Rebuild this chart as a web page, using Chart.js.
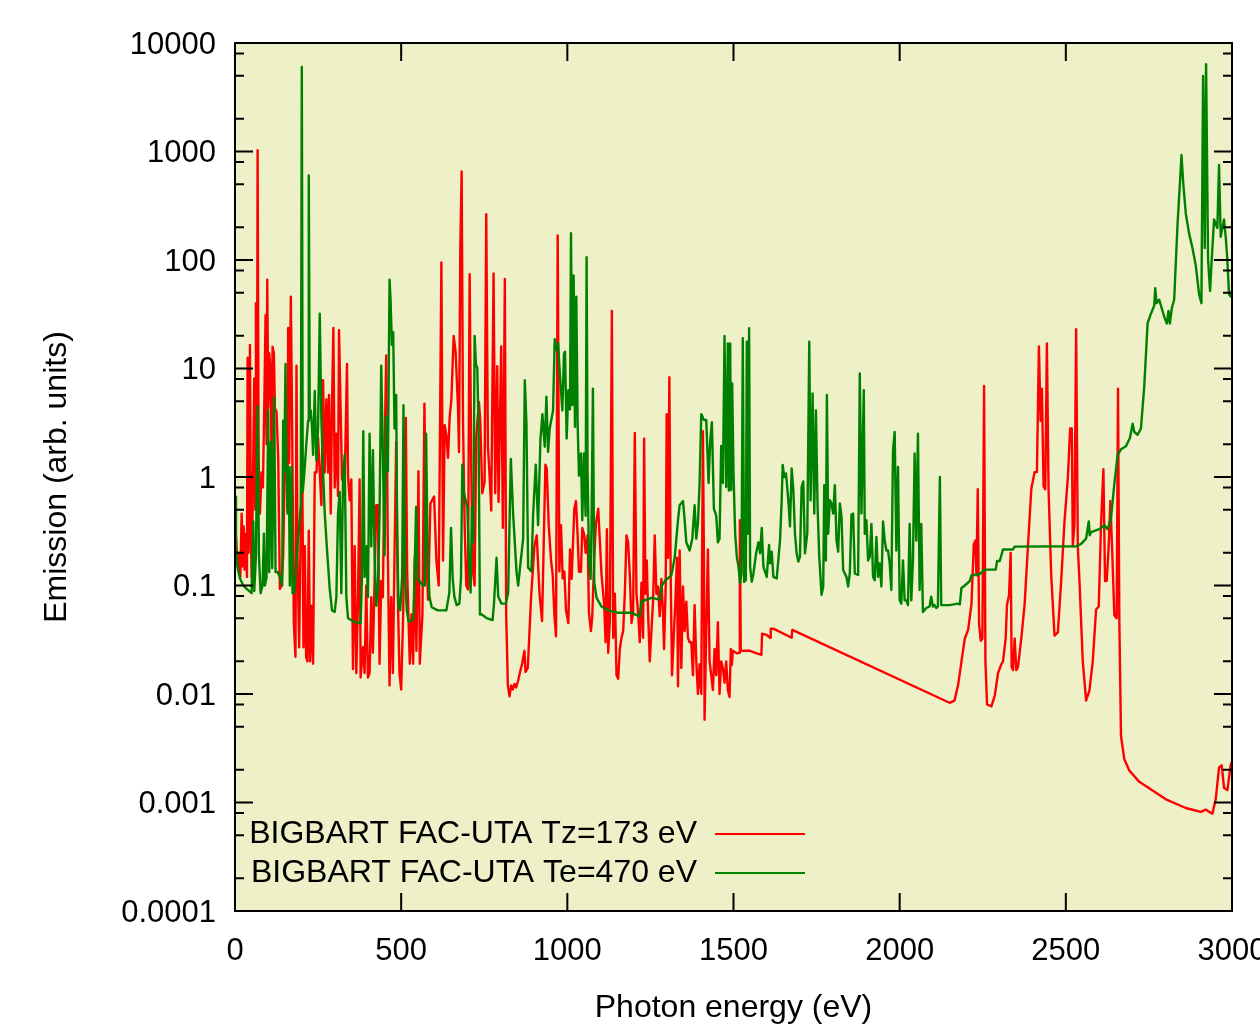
<!DOCTYPE html>
<html>
<head>
<meta charset="utf-8">
<script src="https://cdn.jsdelivr.net/npm/chart.js@4.4.1/dist/chart.umd.min.js"></script>
<style>
  html, body { margin: 0; padding: 0; background: #fff; }
  canvas { display: block; }
</style>
</head>
<body>
<canvas id="spectrum" width="1260" height="1027"></canvas>
<script>
// ===== data: [photon energy (eV), emission (arb. units)] =====
const seriesLabels = ['BIGBART FAC-UTA Tz=173 eV', 'BIGBART FAC-UTA Te=470 eV'];
const seriesColors = ['#ff0000', '#008000'];

const tzPoints = [
  [0,0.4],[4,0.25],[8,0.15],[12,0.2],[16,0.12],[20,0.46],[23,0.15],[26,0.35],[29,0.14],[33,0.3],
  [36,0.12],[38,12.6],[41,0.2],[45,16.5],[48,0.3],[50,0.12],[53,0.5],[58,8.1],[61,0.5],[63,40],
  [66,0.9],[68,1030],[71,1.5],[75,0.46],[80,1.1],[84,0.8],[88,4.3],[92,31],[95,2],[97,66],
  [100,4.3],[103,13.8],[107,9.7],[110,1.35],[113,15.9],[117,13.8],[120,4.3],[125,4.0],[130,1.5],[135,0.093],
  [140,0.1],[145,0.19],[150,1.35],[155,2.3],[158,0.5],[160,23.7],[163,1.35],[168,46],[172,2.8],[177,0.045],
  [182,0.022],[185,10.6],[188,0.19],[193,0.027],[197,0.23],[202,2.0],[206,0.027],[210,0.23],[214,0.022],[218,0.02],
  [222,0.32],[226,0.02],[230,0.065],[235,0.019],[240,1.1],[245,1.1],[250,2.3],[255,1.1],[260,0.55],[265,7.8],
  [270,1.1],[275,5.2],[280,1.1],[283,5.7],[288,0.46],[292,4.7],[296,23.7],[300,0.8],[305,2.5],[310,0.67],
  [313,22.6],[318,4.0],[322,0.95],[330,0.87],[337,11],[340,1.04],[345,0.61],[350,0.95],[355,0.017],[360,0.23],
  [365,0.0156],[370,0.071],[375,0.95],[378,0.0142],[385,0.027],[390,0.0156],[395,0.1],[400,0.0142],[405,0.0156],[410,0.078],
  [415,0.024],[420,0.11],[425,0.55],[430,0.55],[435,0.019],[440,0.11],[445,0.078],[450,1.6],[455,13.2],[460,0.19],
  [465,0.012],[470,0.078],[475,0.0156],[480,0.19],[485,2.1],[490,0.078],[495,0.0156],[500,0.011],[506,0.054],[514,3.5],
  [518,0.135],[526,0.019],[531,0.054],[536,0.019],[541,0.18],[546,0.025],[552,1.13],[556,0.019],[564,0.054],[570,4.75],
  [576,0.17],[581,0.074],[588,0.57],[593,0.61],[599,0.66],[606,0.17],[613,0.1],[616,1.3],[621,95],[626,0.17],
  [631,3.0],[636,2.4],[641,1.5],[646,3.6],[651,5.1],[658,20],[664,14],[671,4.4],[674,1.7],[678,133],
  [682,655],[686,3.3],[691,0.36],[696,0.1],[701,0.092],[706,74],[711,1.13],[716,0.135],[721,0.1],[726,2.4],
  [734,4.9],[738,3.3],[744,0.71],[751,0.9],[756,264],[761,1.9],[766,1.04],[771,0.49],[778,75],[783,0.71],
  [789,10.5],[793,0.59],[801,16],[806,0.34],[812,67],[816,0.054],[821,0.012],[826,0.0095],[831,0.012],[836,0.011],
  [841,0.0124],[846,0.0115],[851,0.0129],[858,0.016],[864,0.019],[871,0.025],[874,0.016],[881,0.0174],[891,0.079],[901,0.23],
  [908,0.29],[916,0.086],[924,0.047],[929,0.25],[934,1.3],[938,1.2],[944,0.36],[951,0.17],[956,0.125],[961,0.054],
  [966,0.034],[971,168],[976,0.135],[981,0.36],[986,0.116],[991,0.135],[996,0.059],[1003,0.045],[1008,0.215],[1013,0.115],
  [1021,0.51],[1026,0.6],[1031,0.29],[1035,0.134],[1041,0.134],[1045,0.34],[1051,0.29],[1055,0.2],[1061,0.29],[1065,0.056],
  [1071,0.038],[1075,0.052],[1081,0.18],[1086,0.37],[1093,0.51],[1098,0.25],[1103,0.124],[1111,0.066],[1115,0.03],[1119,0.33],
  [1123,0.024],[1128,0.048],[1134,34],[1138,0.033],[1143,0.084],[1148,0.0149],[1153,0.0138],[1158,0.026],[1163,0.033],[1168,0.038],
  [1173,0.084],[1178,0.29],[1183,0.25],[1188,0.124],[1193,0.045],[1198,0.056],[1203,2.55],[1208,0.084],[1213,0.056],[1218,0.03],
  [1223,0.106],[1228,0.033],[1231,2.26],[1235,0.084],[1239,0.17],[1243,0.056],[1248,0.02],[1253,0.038],[1258,0.071],[1263,0.29],
  [1268,0.084],[1273,0.098],[1278,0.052],[1283,0.115],[1288,0.056],[1291,0.026],[1296,0.098],[1299,3.8],[1303,0.18],[1307,8.3],
  [1311,0.124],[1315,0.0149],[1320,0.033],[1325,0.071],[1330,0.18],[1333,0.0118],[1338,0.21],[1343,0.0174],[1348,0.098],[1353,0.038],
  [1358,0.071],[1363,0.033],[1368,0.03],[1373,0.03],[1378,0.0149],[1383,0.066],[1388,0.02],[1393,0.01],[1398,0.0188],[1403,0.01],
  [1408,2.65],[1411,0.18],[1413,0.0058],[1418,0.038],[1423,0.215],[1428,0.02],[1433,0.0149],[1438,0.0109],[1443,0.026],[1448,0.0149],
  [1453,0.046],[1458,0.01],[1463,0.02],[1468,0.0174],[1473,0.0127],[1478,0.02],[1483,0.0109],[1488,0.0094],[1492,0.026],[1495,0.0185],
  [1498,0.025],[1510,0.0237],[1517,0.024],[1519,0.4],[1522,0.025],[1550,0.025],[1570,0.0237],[1584,0.023],[1586,0.036],[1600,0.035],
  [1610,0.033],[1612,0.04],[1620,0.04],[1675,0.033],[1677,0.039],[2150,0.0083],[2165,0.0087],[2176,0.0122],[2186,0.02],[2196,0.0325],
  [2206,0.039],[2216,0.067],[2223,0.24],[2228,0.26],[2231,0.124],[2235,0.77],[2239,0.044],[2244,0.031],[2249,0.0325],[2254,6.9],
  [2258,0.02],[2263,0.008],[2276,0.0077],[2286,0.0096],[2296,0.0156],[2306,0.0188],[2311,0.02],[2319,0.0325],[2323,0.067],[2329,0.081],
  [2334,0.2],[2337,0.0177],[2341,0.0166],[2346,0.0325],[2351,0.0166],[2356,0.0177],[2366,0.0325],[2376,0.067],[2386,0.23],[2396,0.77],
  [2406,1.11],[2413,1.11],[2419,16],[2424,3.3],[2428,6.5],[2433,0.82],[2438,0.77],[2443,17],[2448,0.77],[2456,0.124],
  [2466,0.0345],[2476,0.037],[2486,0.11],[2496,0.39],[2506,0.98],[2513,2.8],[2518,2.8],[2521,0.23],[2526,0.37],[2531,23],
  [2536,0.23],[2541,0.11],[2551,0.02],[2561,0.0087],[2571,0.0108],[2581,0.02],[2591,0.06],[2599,0.064],[2606,0.37],[2613,1.18],
  [2618,0.11],[2623,0.11],[2629,0.23],[2634,0.6],[2639,0.23],[2646,0.053],[2653,0.05],[2657,6.5],[2661,0.047],[2666,0.0041],
  [2676,0.0025],[2691,0.00197],[2721,0.00155],[2801,0.00107],[2861,0.00089],[2906,0.00082],[2921,0.00086],[2931,0.00082],[2941,0.00079],[2951,0.00107],
  [2961,0.0021],[2969,0.0022],[2976,0.00137],[2986,0.0013],[2996,0.0022],[3000,0.0024]
];

const tePoints = [
  [0,0.66],[3,0.23],[8,0.145],[15,0.116],[25,0.1],[35,0.093],[50,0.085],[55,0.39],[58,0.089],[63,0.19],
  [68,4.5],[72,0.19],[77,0.085],[83,0.1],[87,0.3],[90,0.1],[95,0.12],[100,4.1],[103,0.133],[108,2.1],
  [112,0.145],[118,5.4],[122,0.133],[128,0.133],[135,0.12],[142,0.1],[145,3.3],[148,1.13],[152,11],[155,1.13],
  [158,0.46],[162,1.24],[165,0.1],[170,1.24],[173,0.085],[178,0.085],[182,0.12],[188,0.23],[193,0.35],[198,0.55],
  [201,6000],[204,0.73],[210,1.24],[215,2.1],[220,3.3],[222,600],[225,3.6],[228,4.1],[232,2.8],[235,1.6],
  [240,6.2],[245,1.42],[250,2.8],[255,32],[260,3.3],[265,1.13],[270,0.46],[278,0.19],[285,0.093],[292,0.059],
  [300,0.057],[305,0.078],[310,0.46],[315,0.73],[320,0.085],[325,0.95],[330,1.6],[335,0.078],[340,0.05],[360,0.046],
  [378,0.045],[382,0.12],[386,2.65],[390,0.12],[395,0.23],[400,0.078],[405,2.5],[410,0.23],[415,1.77],[420,0.19],
  [425,0.065],[430,0.093],[435,0.46],[440,10.6],[445,1.6],[450,0.19],[455,3.6],[460,1.13],[465,66],[468,44],
  [472,16.5],[476,21.6],[480,2.8],[485,5.7],[488,0.3],[492,0.065],[497,0.059],[503,0.12],[507,4.6],[512,0.116],
  [517,0.059],[522,0.047],[530,0.047],[537,0.05],[545,0.53],[550,0.116],[558,0.107],[565,0.1],[571,0.1],[575,2.5],
  [579,0.29],[585,0.079],[592,0.063],[610,0.059],[636,0.059],[645,0.086],[650,0.34],[655,0.116],[660,0.079],[667,0.066],
  [675,0.068],[680,0.116],[684,1.3],[689,0.71],[694,0.61],[699,0.53],[704,0.17],[709,0.086],[713,0.53],[717,0.25],
  [721,20],[725,10.9],[729,10.1],[733,2.6],[737,0.054],[743,0.054],[757,0.05],[775,0.048],[779,0.066],[787,0.18],
  [792,0.079],[802,0.068],[815,0.068],[822,0.086],[830,1.47],[837,0.45],[847,0.135],[852,0.1],[867,0.27],[872,7.8],
  [877,3.1],[882,0.146],[892,0.135],[897,0.45],[905,1.3],[912,0.36],[919,2.2],[925,3.8],[932,1.9],[937,5.5],
  [942,1.7],[947,2.8],[957,4.1],[962,18.6],[967,14.8],[972,17.2],[977,9.4],[985,4.1],[990,13.7],[993,14.3],
  [998,2.26],[1003,6.3],[1008,4.2],[1011,177],[1015,4.6],[1019,72],[1023,2.9],[1027,46],[1031,3.1],[1035,1.03],
  [1041,1.65],[1045,0.4],[1050,1.65],[1055,0.44],[1058,106],[1061,1.12],[1065,0.18],[1070,0.115],[1073,0.4],[1077,6.5],
  [1081,0.106],[1088,0.077],[1103,0.064],[1123,0.059],[1153,0.056],[1193,0.056],[1218,0.052],[1223,0.071],[1238,0.074],[1253,0.077],
  [1278,0.074],[1283,0.098],[1293,0.11],[1313,0.124],[1323,0.18],[1333,0.4],[1338,0.55],[1348,0.6],[1353,0.4],[1358,0.25],
  [1368,0.21],[1376,0.27],[1383,0.55],[1388,0.27],[1393,0.37],[1398,0.88],[1403,3.8],[1411,3.35],[1418,3.35],[1425,0.88],
  [1430,2.2],[1435,3.2],[1441,0.51],[1448,0.44],[1453,0.25],[1458,0.27],[1463,1.93],[1468,0.88],[1473,20],[1478,0.81],
  [1483,17],[1486,0.75],[1490,17],[1493,0.76],[1496,7.3],[1500,1.08],[1505,0.3],[1510,0.184],[1515,0.149],[1520,0.105],
  [1524,0.129],[1528,19],[1532,0.108],[1537,0.112],[1540,17.7],[1543,0.3],[1547,23.5],[1550,0.149],[1555,0.108],[1560,0.129],
  [1568,0.198],[1575,0.25],[1580,0.198],[1585,0.34],[1590,0.149],[1600,0.12],[1607,0.236],[1610,0.16],[1615,0.205],[1620,0.12],
  [1630,0.116],[1640,0.26],[1645,0.61],[1648,1.29],[1653,1.0],[1658,1.08],[1665,0.61],[1670,0.35],[1675,1.2],[1680,0.76],
  [1685,0.3],[1690,0.198],[1695,0.166],[1700,0.184],[1705,0.81],[1710,0.91],[1715,0.198],[1722,0.3],[1728,17.7],[1732,0.61],
  [1738,5.9],[1743,0.46],[1748,4.1],[1753,0.53],[1758,0.184],[1765,0.082],[1770,0.098],[1773,0.84],[1778,0.17],[1781,5.7],
  [1785,0.3],[1790,0.61],[1795,0.57],[1800,0.46],[1805,0.84],[1810,0.26],[1815,0.205],[1820,0.57],[1825,0.43],[1830,0.139],
  [1840,0.12],[1845,0.098],[1850,0.129],[1855,0.45],[1860,0.46],[1865,0.129],[1875,0.125],[1880,9],[1885,0.46],[1892,6.3],
  [1895,0.3],[1900,0.4],[1905,0.17],[1910,0.184],[1915,0.37],[1920,0.12],[1925,0.112],[1930,0.28],[1935,0.12],[1940,0.16],
  [1945,0.098],[1950,0.39],[1955,0.26],[1960,0.21],[1965,0.21],[1970,0.16],[1975,0.091],[1980,1.77],[1985,2.6],[1990,0.21],
  [1995,1.24],[2000,0.073],[2005,0.068],[2010,0.17],[2015,0.073],[2020,0.073],[2025,0.066],[2030,0.37],[2035,0.073],[2040,0.17],
  [2045,1.65],[2050,0.26],[2055,2.5],[2060,0.091],[2065,0.37],[2070,0.057],[2080,0.062],[2090,0.064],[2095,0.079],[2100,0.064],
  [2105,0.066],[2110,0.062],[2115,0.064],[2121,1.0],[2125,0.066],[2150,0.066],[2175,0.068],[2181,0.067],[2186,0.095],[2196,0.1],
  [2211,0.11],[2216,0.124],[2241,0.127],[2256,0.14],[2289,0.14],[2293,0.168],[2301,0.168],[2306,0.19],[2311,0.215],[2341,0.215],
  [2346,0.228],[2531,0.23],[2546,0.242],[2561,0.27],[2569,0.39],[2572,0.29],[2576,0.31],[2601,0.33],[2616,0.36],[2626,0.33],
  [2636,0.42],[2646,0.87],[2656,1.6],[2666,1.8],[2681,1.92],[2693,2.3],[2701,3.1],[2706,2.6],[2716,2.45],[2726,2.8],
  [2736,6.9],[2746,26],[2756,32],[2766,38],[2769,55],[2773,40],[2781,43],[2796,30],[2804,26],[2809,34],
  [2813,26],[2819,36],[2826,43],[2836,210],[2844,555],[2848,927],[2853,522],[2861,267],[2871,175],[2881,129],
  [2891,89],[2901,48.5],[2908,40],[2913,4980],[2918,129],[2922,6360],[2928,101],[2934,52],[2939,101],[2946,236],
  [2956,197],[2961,753],[2966,164],[2976,236],[2981,164],[2986,101],[2991,48.5],[2996,46],[3000,52]
];

const xTickValues = [0, 500, 1000, 1500, 2000, 2500, 3000];
const yTickValues = [0.0001, 0.001, 0.01, 0.1, 1, 10, 100, 1000, 10000];
const yTickLabels = ['0.0001', '0.001', '0.01', '0.1', '1', '10', '100', '1000', '10000'];
const yMinorSteps = [2, 5, 8];

// ===== helpers =====
const toXY = pts => pts.map(p => ({ x: p[0], y: p[1] }));

// plot background, gnuplot-style frame with inward ticks, and the key
const framePlugin = {
  id: 'frame',
  beforeDraw(chart) {
    const { ctx, chartArea: a } = chart;
    ctx.save();
    ctx.fillStyle = '#eef0c8';
    ctx.fillRect(a.left, a.top, a.right - a.left, a.bottom - a.top);
    ctx.restore();
  },
  afterDatasetsDraw(chart) {
    const { ctx, chartArea: a, scales: { x, y } } = chart;
    ctx.save();
    ctx.strokeStyle = '#000';
    ctx.lineWidth = 2;
    ctx.beginPath();
    xTickValues.forEach(v => {
      const px = x.getPixelForValue(v);
      ctx.moveTo(px, a.bottom); ctx.lineTo(px, a.bottom - 18);
      ctx.moveTo(px, a.top); ctx.lineTo(px, a.top + 18);
    });
    yTickValues.forEach(v => {
      const py = y.getPixelForValue(v);
      ctx.moveTo(a.left, py); ctx.lineTo(a.left + 18, py);
      ctx.moveTo(a.right, py); ctx.lineTo(a.right - 18, py);
      if (v < 10000) {
        yMinorSteps.forEach(m => {
          const pm = y.getPixelForValue(v * m);
          ctx.moveTo(a.left, pm); ctx.lineTo(a.left + 9, pm);
          ctx.moveTo(a.right, pm); ctx.lineTo(a.right - 9, pm);
        });
      }
    });
    ctx.stroke();
    ctx.strokeRect(a.left, a.top, a.right - a.left, a.bottom - a.top);

    // key, bottom left inside the frame
    ctx.font = "32px 'Liberation Sans', Arial, sans-serif";
    ctx.fillStyle = '#000';
    ctx.textAlign = 'right';
    ctx.textBaseline = 'middle';
    seriesLabels.forEach((lab, i) => {
      const ky = 834 + i * 39;
      ctx.fillText(lab, 697, ky);
      ctx.strokeStyle = seriesColors[i];
      ctx.beginPath();
      ctx.moveTo(715, ky); ctx.lineTo(805, ky);
      ctx.stroke();
    });
    ctx.restore();
  }
};

// ===== chart =====
Chart.defaults.font.family = "'Liberation Sans', Arial, sans-serif";
Chart.defaults.font.size = 31;
Chart.defaults.color = '#000';

new Chart(document.getElementById('spectrum'), {
  type: 'line',
  data: {
    datasets: [
      { label: seriesLabels[0], data: toXY(tzPoints), borderColor: seriesColors[0], borderWidth: 2.4,
        pointRadius: 0, borderJoinStyle: 'round', order: 1 },
      { label: seriesLabels[1], data: toXY(tePoints), borderColor: seriesColors[1], borderWidth: 2.4,
        pointRadius: 0, borderJoinStyle: 'round', order: 0 }
    ]
  },
  options: {
    responsive: false,
    animation: false,
    devicePixelRatio: 1,
    layout: { padding: { top: 43, right: 28, left: 0, bottom: 0 } },
    plugins: { legend: { display: false }, tooltip: { enabled: false } },
    scales: {
      x: {
        type: 'linear', min: 0, max: 3000,
        grid: { display: false, drawTicks: false },
        border: { display: false },
        ticks: { padding: 22, maxRotation: 0, autoSkip: false, callback: v => String(v) },
        title: { display: true, text: 'Photon energy (eV)', font: { size: 32 }, padding: { top: 0, bottom: 0 } },
        afterBuildTicks: s => { s.ticks = xTickValues.map(v => ({ value: v })); },
        afterFit: s => { s.height = 116; s.paddingLeft = 0; s.paddingRight = 0; }
      },
      y: {
        type: 'logarithmic', min: 0.0001, max: 10000,
        grid: { display: false, drawTicks: false },
        border: { display: false },
        ticks: { padding: 19, autoSkip: false, labelOffset: 2, callback: (v, i) => yTickLabels[i] },
        title: { display: true, text: 'Emission (arb. units)', font: { size: 32 }, padding: { top: 38, bottom: 0 } },
        afterBuildTicks: s => { s.ticks = yTickValues.map(v => ({ value: v })); },
        afterFit: s => { s.width = 235; s.paddingTop = 0; s.paddingBottom = 0; }
      }
    }
  },
  plugins: [framePlugin]
});
</script>
</body>
</html>
